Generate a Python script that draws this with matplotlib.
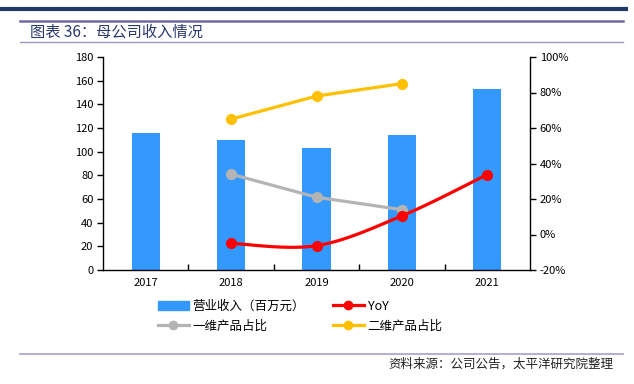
import numpy as np
import matplotlib
matplotlib.use("Agg")
import matplotlib.pyplot as plt
from matplotlib.lines import Line2D
from matplotlib.patches import Patch

plt.rcParams['font.family'] = ['Noto Sans CJK SC', 'DejaVu Sans']

years = ['2017', '2018', '2019', '2020', '2021']
revenue = [115.5, 110, 103, 114, 153]
yoy = [None, -5.0, -6.3, 10.5, 33.8]
share_1d = [None, 34, 21, 14, None]
share_2d = [None, 65, 78, 85, None]

W, H = 634, 384
fig = plt.figure(figsize=(W / 100, H / 100), dpi=100)

def fx(px):
    return px / W

def fy(py):
    return 1 - py / H

# header lines
fig.add_artist(Line2D([fx(0), fx(626)], [fy(8.5), fy(8.5)], color='#1f3a64', lw=3.0))
fig.add_artist(Line2D([fx(20), fx(623)], [fy(21), fy(21)], color='#6f6aa6', lw=1.8))
fig.add_artist(Line2D([fx(20), fx(623)], [fy(42), fy(42)], color='#9a96c2', lw=1.0))
fig.text(fx(30), fy(32), '图表 36：母公司收入情况', fontsize=11, color='#2b3a6b', va='center', ha='left')

# footer
fig.add_artist(Line2D([fx(20), fx(623)], [fy(354), fy(354)], color='#b0aed2', lw=1.4))
fig.text(fx(613), fy(364), '资料来源：公司公告，太平洋研究院整理', fontsize=9, color='#222222',
         va='center', ha='right', style='italic')

ax = fig.add_axes([fx(103), fy(270), fx(530) - fx(103), fy(57) - fy(270)])
x = np.arange(len(years))
ax.bar(x, revenue, width=0.33, color='#3399ff', zorder=2)
ax.set_xlim(-0.5, len(years) - 0.5)
ax.set_ylim(0, 180)
ax.set_yticks(np.arange(0, 181, 20))
ax.set_xticks(x)
ax.set_xticklabels(years)
ax.set_xticks(np.arange(0.5, len(years) - 0.5, 1), minor=True)
ax.tick_params(axis='x', which='major', length=0, labelsize=8, pad=6)
ax.tick_params(axis='x', which='minor', direction='in', length=4, width=1)
ax.tick_params(axis='y', labelsize=8, length=4, width=1, direction='out', pad=3)
ax.spines['top'].set_visible(False)
ax.spines['right'].set_visible(False)
for s in ['left', 'bottom']:
    ax.spines[s].set_linewidth(1.0)

ax2 = ax.twinx()
ax2.set_ylim(-20, 100)
ax2.set_yticks(np.arange(-20, 101, 20))
ax2.set_yticklabels([f'{v}%' for v in range(-20, 101, 20)])
ax2.tick_params(axis='y', labelsize=8, length=4, width=1, direction='out', pad=3)
for s in ['top', 'left', 'bottom']:
    ax2.spines[s].set_visible(False)
ax2.spines['right'].set_linewidth(1.0)


def smooth(xs, ys, n=30):
    xs = np.asarray(xs, float)
    ys = np.asarray(ys, float)
    px, py = [], []
    for i in range(len(xs) - 1):
        p0 = (xs[max(i - 1, 0)], ys[max(i - 1, 0)])
        p1 = (xs[i], ys[i])
        p2 = (xs[i + 1], ys[i + 1])
        p3 = (xs[min(i + 2, len(xs) - 1)], ys[min(i + 2, len(xs) - 1)])
        c1 = (p1[0] + (p2[0] - p0[0]) / 6, p1[1] + (p2[1] - p0[1]) / 6)
        c2 = (p2[0] - (p3[0] - p1[0]) / 6, p2[1] - (p3[1] - p1[1]) / 6)
        t = np.linspace(0, 1, n)
        bx = (1 - t) ** 3 * p1[0] + 3 * (1 - t) ** 2 * t * c1[0] + 3 * (1 - t) * t ** 2 * c2[0] + t ** 3 * p2[0]
        by = (1 - t) ** 3 * p1[1] + 3 * (1 - t) ** 2 * t * c1[1] + 3 * (1 - t) * t ** 2 * c2[1] + t ** 3 * p2[1]
        px.extend(bx)
        py.extend(by)
    return px, py


def valid(series):
    xs = [i for i, v in enumerate(series) if v is not None]
    ys = [v for v in series if v is not None]
    return xs, ys

LW = 2.3
xs, ys = valid(share_2d)
ax2.plot(xs, ys, color='#ffc000', lw=LW, marker='o', ms=7, zorder=3)
xs, ys = valid(share_1d)
ax2.plot(xs, ys, color='#b4b4b4', lw=LW, marker='o', ms=7, zorder=3)
xs, ys = valid(yoy)
sx, sy = smooth(xs, ys)
ax2.plot(sx, sy, color='#ff0000', lw=LW, zorder=4)
ax2.plot(xs, ys, color='#ff0000', lw=0, marker='o', ms=7, zorder=4)

h_rev = Patch(color='#3399ff')
h_yoy = Line2D([], [], color='#ff0000', lw=LW, marker='o', ms=6)
h_1d = Line2D([], [], color='#b4b4b4', lw=LW, marker='o', ms=6)
h_2d = Line2D([], [], color='#ffc000', lw=LW, marker='o', ms=6)
handles = [h_rev, h_1d, h_yoy, h_2d]
labels = ['营业收入（百万元）', '一维产品占比', 'YoY', '二维产品占比']
fig.legend(handles, labels, ncol=2, loc='center', bbox_to_anchor=(fx(300), fy(316)),
           frameon=False, fontsize=9, handlelength=2.5, columnspacing=2.2,
           labelspacing=0.55, handletextpad=0.3)

fig.savefig('out.png', dpi=100)
